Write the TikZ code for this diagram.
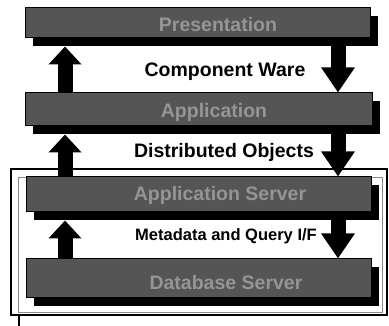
\documentclass[tikz,border=0pt]{standalone}
\usepackage{fontspec}
\setmainfont{Liberation Sans}
\usetikzlibrary{arrows.meta,shadows}
\definecolor{barfill}{HTML}{555555}
\definecolor{bartxt}{HTML}{959595}
\definecolor{framegray}{HTML}{8A8A8A}
\begin{document}
\begin{tikzpicture}[x=1pt,y=-1pt,
  bar/.style={draw=black,line width=1pt,fill=barfill,inner sep=0pt,
    drop shadow={shadow xshift=8pt,shadow yshift=-8pt,fill=black,opacity=1}},
  bartext/.style={text=bartxt,font=\fontsize{19.5}{20}\selectfont\bfseries,inner sep=0pt},
  midtext/.style={font=\fontsize{19.5}{20}\selectfont\bfseries,inner sep=0pt},
  smalltext/.style={font=\fontsize{16.5}{17}\selectfont\bfseries,inner sep=0pt},
  uparrow/.style={line width=15pt,-{Triangle[width=32pt,length=18pt]}},
  downarrow/.style={line width=15pt,-{Triangle[width=32pt,length=25pt]}}]
\useasboundingbox[fill=white] (0,0) rectangle (389,326);

% frames around the server tier
\draw[framegray,line width=0.6pt] (18,177) rectangle (382,312);
\draw[black,line width=1.4pt] (11,169) rectangle (387,315);
\coordinate (tailtop) at (19,315);
\coordinate (tailbot) at (19,326);
\draw[black,line width=1.4pt] (tailtop) -- (tailbot);

% the four layers
\node[bar,minimum width=345pt,minimum height=30pt] (pres) at (197.5,23) {};
\node[bar,minimum width=347pt,minimum height=33pt] (app) at (198.5,109.5) {};
\node[bar,minimum width=345pt,minimum height=35pt] (appsrv) at (198.5,194.5) {};
\node[bar,minimum width=345pt,minimum height=39pt] (dbsrv) at (198.5,278.5) {};

\node[bartext] (presl) at (218,25) {Presentation};
\node[bartext] (appl) at (214,112) {Application};
\node[bartext] (appsrvl) at (220,195) {Application Server};
\node[bartext] (dbsrvl) at (226,283) {Database Server};

% interface labels
\node[midtext] (cw) at (225,72) {Component Ware};
\node[midtext] (dobj) at (224,152) {Distributed Objects};
\node[smalltext] (mq) at (226,236) {Metadata and Query I/F};

% upward arrows on the left
\coordinate (lx) at (65,0);
\draw[uparrow] (app.north -| lx) -- ([yshift=-8pt]pres.south -| lx);
\draw[uparrow] (appsrv.north -| lx) -- ([yshift=-8pt]app.south -| lx);
\draw[uparrow] (dbsrv.north -| lx) -- ([yshift=-8pt]appsrv.south -| lx);

% downward arrows on the right
\coordinate (rx) at (338,0);
\draw[downarrow] ([yshift=-8pt]pres.south -| rx) -- (app.north -| rx);
\draw[downarrow] ([yshift=-8pt]app.south -| rx) -- (appsrv.north -| rx);
\draw[downarrow] ([yshift=-8pt]appsrv.south -| rx) -- (dbsrv.north -| rx);
\end{tikzpicture}
\end{document}
